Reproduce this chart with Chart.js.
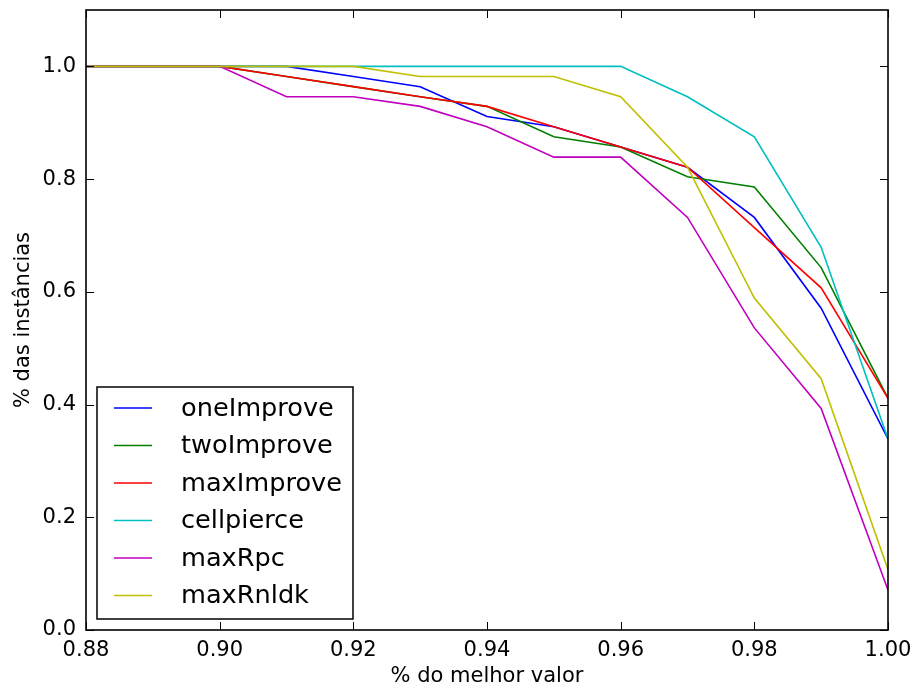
<!DOCTYPE html>
<html>
<head>
<meta charset="utf-8">
<script src="https://cdn.jsdelivr.net/npm/chart.js@4/dist/chart.umd.min.js"></script>
<style>
  html, body { margin: 0; padding: 0; background: #ffffff; }
  #wrap { width: 914px; height: 691px; }
</style>
</head>
<body>
<div id="wrap"><canvas id="c" width="914" height="691"></canvas></div>
<script>
// ---- data ----
const xValues    = [0.88, 0.89, 0.90, 0.91, 0.92, 0.93, 0.94, 0.95, 0.96, 0.97, 0.98, 0.99, 1.00];
const oneImprove = [1.0, 1.0, 1.0, 1.0, 0.982, 0.964, 0.911, 0.893, 0.857, 0.821, 0.732, 0.571, 0.339];
const twoImprove = [1.0, 1.0, 1.0, 0.982, 0.964, 0.946, 0.929, 0.875, 0.857, 0.804, 0.786, 0.643, 0.411];
const maxImprove = [1.0, 1.0, 1.0, 0.982, 0.964, 0.946, 0.929, 0.893, 0.857, 0.821, 0.714, 0.607, 0.411];
const cellpierce = [1.0, 1.0, 1.0, 1.0, 1.0, 1.0, 1.0, 1.0, 1.0, 0.946, 0.875, 0.679, 0.339];
const maxRpc     = [1.0, 1.0, 1.0, 0.946, 0.946, 0.929, 0.893, 0.839, 0.839, 0.732, 0.536, 0.393, 0.071];
const maxRnldk   = [1.0, 1.0, 1.0, 1.0, 1.0, 0.982, 0.982, 0.982, 0.946, 0.821, 0.589, 0.446, 0.107];
const seriesNames = ['oneImprove', 'twoImprove', 'maxImprove', 'cellpierce', 'maxRpc', 'maxRnldk'];
const xTickValues = [0.88, 0.90, 0.92, 0.94, 0.96, 0.98, 1.00];
const yTickValues = [0.0, 0.2, 0.4, 0.6, 0.8, 1.0];
const xTitle = '% do melhor valor';
const yTitle = '% das instâncias';

const seriesValues = [oneImprove, twoImprove, maxImprove, cellpierce, maxRpc, maxRnldk];
const seriesColors = ['#0000ff', '#008000', '#ff0000', '#00bfbf', '#bf00bf', '#bfbf00'];
const FONT = 'DejaVu Sans';

const datasets = seriesNames.map((name, i) => ({
  label: name,
  data: xValues.map((x, j) => ({ x: x, y: seriesValues[i][j] })),
  borderColor: seriesColors[i],
  backgroundColor: seriesColors[i],
  borderWidth: 1.6,
  pointRadius: 0,
  pointHoverRadius: 0,
  tension: 0,
  fill: false,
  order: seriesNames.length - i
}));

// frame + inward ticks on all four sides
const framePlugin = {
  id: 'frame',
  afterDatasetsDraw(chart) {
    const ctx = chart.ctx;
    const a = chart.chartArea;
    const xs = chart.scales.x, ys = chart.scales.y;
    const TL = 8;
    ctx.save();
    ctx.strokeStyle = '#000000';
    ctx.lineWidth = 1;
    ctx.beginPath();
    xs.ticks.forEach(t => {
      const px = Math.round(xs.getPixelForValue(t.value)) + 0.5;
      ctx.moveTo(px, a.bottom); ctx.lineTo(px, a.bottom - TL);
      ctx.moveTo(px, a.top); ctx.lineTo(px, a.top + TL);
    });
    ys.ticks.forEach(t => {
      const py = Math.round(ys.getPixelForValue(t.value)) + 0.5;
      ctx.moveTo(a.left, py); ctx.lineTo(a.left + TL, py);
      ctx.moveTo(a.right, py); ctx.lineTo(a.right - TL, py);
    });
    ctx.stroke();
    ctx.lineWidth = 1.6;
    ctx.strokeRect(a.left, a.top, a.right - a.left, a.bottom - a.top);
    ctx.restore();
  }
};

// legend box inside the plot, lower left
const legendPlugin = {
  id: 'innerLegend',
  afterDraw(chart) {
    const ctx = chart.ctx;
    const a = chart.chartArea;
    const boxL = a.left + 11, boxB = a.bottom - 11;
    const boxW = 256, boxH = 232;
    const boxT = boxB - boxH;
    ctx.save();
    ctx.fillStyle = '#ffffff';
    ctx.fillRect(boxL, boxT, boxW, boxH);
    ctx.strokeStyle = '#000000';
    ctx.lineWidth = 1.5;
    ctx.strokeRect(boxL, boxT, boxW, boxH);
    ctx.font = '25.6px "' + FONT + '"';
    ctx.textBaseline = 'middle';
    ctx.textAlign = 'left';
    chart.data.datasets.forEach((ds, i) => {
      const cy = boxT + 21 + i * 37.5;
      ctx.strokeStyle = ds.borderColor;
      ctx.lineWidth = 1.5;
      ctx.beginPath();
      ctx.moveTo(boxL + 17, cy); ctx.lineTo(boxL + 55, cy);
      ctx.stroke();
      ctx.fillStyle = '#000000';
      ctx.fillText(ds.label, boxL + 84, cy + 1);
    });
    ctx.restore();
  }
};

new Chart(document.getElementById('c'), {
  type: 'line',
  data: { datasets: datasets },
  plugins: [framePlugin, legendPlugin],
  options: {
    responsive: false,
    animation: false,
    layout: { padding: { top: 10, right: 26, bottom: 0, left: 0 } },
    plugins: { legend: { display: false }, tooltip: { enabled: false } },
    scales: {
      x: {
        type: 'linear',
        min: 0.88, max: 1.00,
        grid: { display: false, drawTicks: false },
        border: { display: false },
        afterFit(s) { s.height = 61; s.paddingLeft = 0; s.paddingRight = 0; },
        afterBuildTicks(s) { s.ticks = xTickValues.map(v => ({ value: v })); },
        ticks: {
          color: '#000000',
          padding: 8,
          font: { family: FONT, size: 21 },
          maxRotation: 0,
          autoSkip: false,
          callback: v => Number(v).toFixed(2)
        },
        title: {
          display: true, text: xTitle, color: '#000000',
          font: { family: FONT, size: 21 },
          padding: { top: 0, bottom: 2 }
        }
      },
      y: {
        type: 'linear',
        min: 0, max: 1.1,
        grid: { display: false, drawTicks: false },
        border: { display: false },
        afterFit(s) { s.width = 86; s.paddingTop = 0; s.paddingBottom = 0; },
        afterBuildTicks(s) { s.ticks = yTickValues.map(v => ({ value: v })); },
        ticks: {
          color: '#000000',
          padding: 10,
          font: { family: FONT, size: 21 },
          autoSkip: false,
          callback: v => Number(v).toFixed(1)
        },
        title: {
          display: true, text: yTitle, color: '#000000',
          font: { family: FONT, size: 21 },
          padding: { top: 11, bottom: 0 }
        }
      }
    }
  }
});
</script>
</body>
</html>
